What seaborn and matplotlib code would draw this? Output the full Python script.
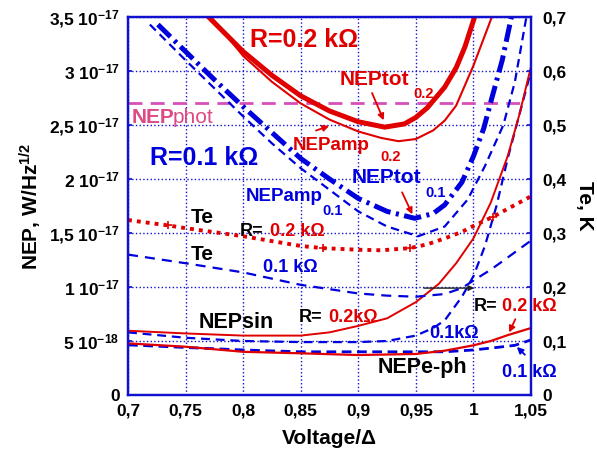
import numpy as np
import matplotlib
matplotlib.use('Agg')
import matplotlib.pyplot as plt
import seaborn as sns

# NEP values in units of 1e-17 W/Hz^1/2, Te in K
tot02_x = [0.77, 0.8, 0.825, 0.85, 0.875, 0.9, 0.923, 0.94, 0.95, 0.96, 0.975, 0.985, 0.9925, 1.001]
tot02_y = [3.5, 3.18, 2.96, 2.77, 2.63, 2.53, 2.48, 2.51, 2.57, 2.66, 2.85, 3.03, 3.22, 3.5]

amp02_x = [0.772, 0.8, 0.825, 0.85, 0.875, 0.9, 0.92, 0.935, 0.95, 0.965, 0.975, 0.985, 1.0, 1.016]
amp02_y = [3.5, 3.14, 2.90, 2.70, 2.55, 2.44, 2.38, 2.35, 2.37, 2.45, 2.54, 2.68, 3.05, 3.5]

tot01_x = [0.726, 0.75, 0.775, 0.8, 0.825, 0.85, 0.875, 0.9, 0.925, 0.949, 0.965, 0.975, 0.99, 1.0, 1.009, 1.0155, 1.025, 1.033]
tot01_y = [3.43, 3.18, 2.92, 2.67, 2.43, 2.19, 2.0, 1.82, 1.70, 1.636, 1.68, 1.76, 1.97, 2.21, 2.47, 2.73, 3.1, 3.5]

amp01_x = [0.719, 0.75, 0.775, 0.8, 0.825, 0.85, 0.875, 0.9, 0.925, 0.952, 0.975, 0.995, 1.01, 1.026, 1.036, 1.046]
amp01_y = [3.43, 3.10, 2.84, 2.58, 2.33, 2.10, 1.90, 1.70, 1.56, 1.47, 1.56, 1.81, 2.12, 2.5, 2.9, 3.5]

sin02_x = [0.7, 0.75, 0.8, 0.85, 0.875, 0.9, 0.925, 0.95, 0.97, 0.985, 1.0, 1.015, 1.03, 1.04, 1.05]
sin02_y = [0.595, 0.57, 0.55, 0.55, 0.58, 0.64, 0.71, 0.86, 1.03, 1.22, 1.45, 1.78, 2.22, 2.6, 3.04]

sin01_x = [0.7, 0.75, 0.8, 0.85, 0.9, 0.925, 0.95, 0.965, 0.975, 0.99, 1.0, 1.01, 1.02, 1.03, 1.04, 1.05]
sin01_y = [0.58, 0.53, 0.50, 0.49, 0.49, 0.50, 0.55, 0.62, 0.69, 0.91, 1.10, 1.38, 1.75, 2.2, 2.6, 3.0]

eph02_x = [0.7, 0.75, 0.8, 0.85, 0.9, 0.95, 0.975, 1.0, 1.015, 1.03, 1.05]
eph02_y = [0.478, 0.447, 0.40, 0.386, 0.37, 0.38, 0.41, 0.46, 0.50, 0.555, 0.62]

eph01_x = [0.7, 0.75, 0.8, 0.85, 0.9, 0.95, 0.975, 1.0, 1.02, 1.036, 1.05]
eph01_y = [0.464, 0.44, 0.417, 0.40, 0.40, 0.40, 0.40, 0.417, 0.44, 0.46, 0.51]

phot_x = [0.7, 1.045]
phot_y = [2.7, 2.7]

te02_x = [0.7, 0.735, 0.75, 0.8, 0.85, 0.869, 0.9, 0.92, 0.945, 0.96, 0.975, 0.99, 1.0, 1.017, 1.03, 1.05]
te02_y = [0.324, 0.314, 0.309, 0.294, 0.276, 0.272, 0.269, 0.268, 0.272, 0.279, 0.29, 0.302, 0.313, 0.33, 0.345, 0.368]

te01_x = [0.7, 0.75, 0.8, 0.85, 0.9, 0.925, 0.95, 0.975, 0.99, 1.0, 1.015, 1.03, 1.05]
te01_y = [0.26, 0.244, 0.227, 0.204, 0.188, 0.184, 0.182, 0.187, 0.198, 0.212, 0.232, 0.255, 0.286]

x_ticks = [0.7, 0.75, 0.8, 0.85, 0.9, 0.95, 1.0, 1.05]
x_labels = ['0,7', '0,75', '0,8', '0,85', '0,9', '0,95', '1', '1,05']
y_ticks = [0, 0.5, 1, 1.5, 2, 2.5, 3, 3.5]
y_labels = ['0', '5 10$^{-18}$', '1 10$^{-17}$', '1,5 10$^{-17}$', '2 10$^{-17}$',
            '2,5 10$^{-17}$', '3 10$^{-17}$', '3,5 10$^{-17}$']
te_ticks = [0, 0.1, 0.2, 0.3, 0.4, 0.5, 0.6, 0.7]
te_labels = ['0', '0,1', '0,2', '0,3', '0,4', '0,5', '0,6', '0,7']

RED = '#E00000'
BLUE = '#0000DD'
PINK = '#D64FB8'
FRAME = '#1010D0'

sns.set_theme(style='white')
plt.rcParams['font.family'] = ['Liberation Sans', 'DejaVu Sans']
plt.rcParams['font.weight'] = 'bold'
plt.rcParams['text.color'] = 'black'
plt.rcParams['axes.labelcolor'] = 'black'
plt.rcParams['xtick.color'] = 'black'
plt.rcParams['ytick.color'] = 'black'
plt.rcParams['mathtext.fontset'] = 'custom'
plt.rcParams['mathtext.rm'] = 'Liberation Sans:bold'
plt.rcParams['mathtext.it'] = 'Liberation Sans:bold'
plt.rcParams['mathtext.bf'] = 'Liberation Sans:bold'


def draw(ax, x, y, color, lw, ls, **kw):
    sns.lineplot(x=x, y=y, ax=ax, color=color, linewidth=lw, linestyle=ls,
                 sort=False, legend=False, errorbar=None, **kw)


fig = plt.figure(figsize=(5.97, 4.54), dpi=100)
ax = fig.add_axes([128 / 597, 59 / 454, 403 / 597, 378 / 454])
ax2 = ax.twinx()

# left axis curves
draw(ax, phot_x, phot_y, PINK, 2.0, (0, (5, 3)))
draw(ax, eph01_x, eph01_y, BLUE, 2.0, (0, (3.5, 2)))
draw(ax, eph02_x, eph02_y, RED, 1.6, '-')
draw(ax, sin01_x, sin01_y, BLUE, 1.6, (0, (4, 2.6)))
draw(ax, sin02_x, sin02_y, RED, 1.4, '-')
draw(ax, amp01_x, amp01_y, BLUE, 1.6, (0, (3.8, 2.4)))
draw(ax, tot01_x, tot01_y, BLUE, 3.6, (0, (3.5, 1.1, 0.6, 1.1)))
draw(ax, amp02_x, amp02_y, RED, 1.5, '-')
draw(ax, tot02_x, tot02_y, RED, 3.6, '-')

# right axis (Te)
draw(ax2, te01_x, te01_y, BLUE, 1.6, (0, (4.5, 3.2)))
draw(ax2, te02_x, te02_y, RED, 2.8, (0, (1, 1.3)),
     marker='+', markevery=[1, 5, 8, 13], markersize=6, markeredgewidth=1.2,
     markeredgecolor=RED)

ax.set_xlim(0.7, 1.05)
ax.set_ylim(0, 3.5)
ax2.set_ylim(0, 0.7)

ax.set_xticks(x_ticks)
ax.set_xticklabels(x_labels, fontsize=12.5, fontweight='bold')
ax.set_yticks(y_ticks)
ax.set_yticklabels(y_labels, fontsize=12.5, fontweight='bold')
ax2.set_yticks(te_ticks)
ax2.set_yticklabels(te_labels, fontsize=12.5, fontweight='bold')

ax.grid(True, color=FRAME, linestyle=':', linewidth=1.0)
for a in (ax, ax2):
    for s in a.spines.values():
        s.set_color(FRAME)
        s.set_linewidth(1.6)
ax.tick_params(axis='both', direction='in', length=3, color=FRAME, pad=6)
ax2.tick_params(axis='y', direction='in', length=3, color=FRAME, pad=8)

ax.set_xlabel('Voltage/Δ', fontsize=15, fontweight='bold', labelpad=8)
ax.set_ylabel('NEP, W/Hz$^{1/2}$', fontsize=15, fontweight='bold', labelpad=4)
ax2.set_ylabel('Te, K', fontsize=15, fontweight='bold', rotation=270, labelpad=20)

# labels
ax.text(0.806, 3.29, 'R=0.2 kΩ', color=RED, fontsize=18, fontweight='bold', va='center')
ax.text(0.719, 2.19, 'R=0.1 kΩ', color=BLUE, fontsize=18, fontweight='bold', va='center')

ax.text(0.884, 2.92, 'NEPtot', color=RED, fontsize=15, fontweight='bold', va='center')
ax.text(0.948, 2.79, '0.2', color=RED, fontsize=10.5, fontweight='bold', va='center')
ax.text(0.843, 2.31, 'NEPamp', color=RED, fontsize=13.5, fontweight='bold', va='center')
ax.text(0.919, 2.20, '0.2', color=RED, fontsize=10.5, fontweight='bold', va='center')

ax.text(0.894, 2.01, 'NEPtot', color=BLUE, fontsize=15, fontweight='bold', va='center')
ax.text(0.958, 1.87, '0.1', color=BLUE, fontsize=10.5, fontweight='bold', va='center')
ax.text(0.8025, 1.84, 'NEPamp', color=BLUE, fontsize=13.5, fontweight='bold', va='center')
ax.text(0.869, 1.70, '0.1', color=BLUE, fontsize=10.5, fontweight='bold', va='center')

ax.text(0.7035, 2.57, 'NEP', color='#DC4A84', fontsize=15, fontweight='bold', va='center')
ax.text(0.739, 2.57, 'phot', color='#DC4A84', fontsize=15, fontweight='normal', va='center')

ax.text(0.7547, 1.64, 'Te', color='black', fontsize=15, fontweight='bold', va='center')
ax.text(0.7547, 1.30, 'Te', color='black', fontsize=15, fontweight='bold', va='center')
ax.text(0.797, 1.51, 'R=', color='black', fontsize=13, fontweight='bold', va='center')
ax.text(0.823, 1.51, '0.2 kΩ', color=RED, fontsize=13, fontweight='bold', va='center')
ax.text(0.817, 1.18, '0.1 kΩ', color=BLUE, fontsize=13, fontweight='bold', va='center')

ax.text(0.761, 0.667, 'NEPsin', color='black', fontsize=15.5, fontweight='bold', va='center')
ax.text(0.848, 0.713, 'R=', color='black', fontsize=13, fontweight='bold', va='center')
ax.text(0.874, 0.713, '0.2kΩ', color=RED, fontsize=13, fontweight='bold', va='center')
ax.text(1.0, 0.815, 'R=', color='black', fontsize=13, fontweight='bold', va='center')
ax.text(1.025, 0.815, '0.2 kΩ', color=RED, fontsize=13, fontweight='bold', va='center')
ax.text(0.962, 0.574, '0.1kΩ', color=BLUE, fontsize=13, fontweight='bold', va='center')
ax.text(0.917, 0.25, 'NEPe-ph', color='black', fontsize=15.5, fontweight='bold', va='center')
ax.text(1.025, 0.204, '0.1 kΩ', color=BLUE, fontsize=13, fontweight='bold', va='center')

# arrows
arr = dict(arrowstyle='-|>', lw=1.3, mutation_scale=9)
ax.annotate('', xy=(0.923, 2.52), xytext=(0.911, 2.82), arrowprops=dict(arr, color=RED))
ax.annotate('', xy=(0.877, 2.50), xytext=(0.861, 2.44), arrowprops=dict(arr, color=RED))
ax.annotate('', xy=(0.948, 1.65), xytext=(0.937, 1.90), arrowprops=dict(arr, color=RED))
ax.annotate('', xy=(1.030, 0.556), xytext=(1.0374, 0.725), arrowprops=dict(arr, color=RED))
ax.annotate('', xy=(1.036, 0.463), xytext=(1.0464, 0.355), arrowprops=dict(arr, color=BLUE))
ax.annotate('', xy=(1.003, 0.99), xytext=(0.9546, 0.99),
            arrowprops=dict(arrowstyle='-|>', lw=1.0, color='#202020', mutation_scale=8))

fig.savefig('out.png', dpi=100)
